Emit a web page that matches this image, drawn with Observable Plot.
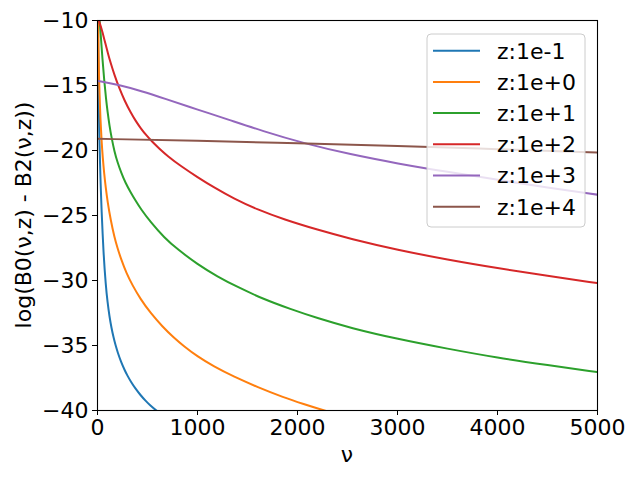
<!DOCTYPE html>
<html>
<head>
<meta charset="utf-8">
<script src="https://cdn.jsdelivr.net/npm/d3@7"></script>
<script src="https://cdn.jsdelivr.net/npm/@observablehq/plot@0.6"></script>
<style>
  html, body { margin: 0; padding: 0; background: white; }
  #chart { width: 640px; height: 480px; }
</style>
</head>
<body>
<div id="chart"></div>
<script>
// ---- data ----
const seriesNames = ["z:1e-1", "z:1e+0", "z:1e+1", "z:1e+2", "z:1e+3", "z:1e+4"];
const seriesColors = ["#1f77b4", "#ff7f0e", "#2ca02c", "#d62728", "#9467bd", "#8c564b"];

const nuZm1  = [2, 5, 10, 15, 20, 30, 40, 60, 83, 100, 120, 140, 160, 180, 203, 235, 270, 300, 337, 380, 430, 480, 530, 577, 700];
const valZm1 = [-8, -11, -14.5, -17.5, -19.5, -22.3, -24.5, -27.95, -30.4, -31.65, -32.8, -33.66, -34.37, -34.97, -35.56, -36.25, -36.87, -37.33, -37.83, -38.32, -38.82, -39.25, -39.63, -39.94, -40.64];

const nuZ0  = [3, 6, 10, 15, 20, 30, 40, 53, 67, 83, 100, 133, 170, 200, 233, 290, 350, 430, 530, 650, 763, 863, 1000, 1160, 1363, 1600, 1863, 2060, 2263, 2600];
const valZ0 = [-6.0, -9.6, -12.3, -14.25, -15.6, -17.7, -19.2, -20.6, -21.8, -22.9, -23.9, -25.4, -26.7, -27.5, -28.3, -29.45, -30.37, -31.43, -32.5, -33.55, -34.4, -35.05, -35.85, -36.6, -37.4, -38.2, -39.0, -39.5, -40, -40.7];

const nuZ1  = [15, 25, 33, 50, 67, 85, 100, 120, 140, 170, 200, 237, 280, 330, 380, 433, 530, 667, 800, 1000, 1200, 1400, 1650, 1930, 2200, 2530, 3000, 3500, 4000, 4500, 5000];
const valZ1 = [-9.5, -10.3, -11.2, -13.0, -14.6, -16.0, -17.0, -18.1, -19.0, -20.1, -20.9, -21.7, -22.5, -23.2, -23.85, -24.5, -25.5, -26.7, -27.6, -28.75, -29.7, -30.5, -31.4, -32.2, -32.9, -33.65, -34.5, -35.25, -35.95, -36.5, -37.05];

const nuZ2  = [0, 27, 50, 80, 105, 133, 170, 217, 270, 333, 380, 433, 490, 550, 617, 700, 833, 1000, 1167, 1363, 1600, 1863, 2200, 2530, 3000, 3500, 4000, 4500, 5000];
const valZ2 = [-9.7, -10.3, -10.9, -11.8, -12.55, -13.3, -14.2, -15.2, -16.15, -17.1, -17.7, -18.3, -18.85, -19.35, -19.85, -20.42, -21.2, -22.05, -22.85, -23.7, -24.55, -25.3, -26.1, -26.8, -27.65, -28.4, -29.05, -29.65, -30.2];

const nuZ3  = [0, 217, 450, 667, 1000, 1300, 1650, 2063, 2530, 3000, 3500, 4000, 4500, 5000];
const valZ3 = [-14.65, -14.95, -15.45, -16.0, -16.85, -17.6, -18.5, -19.45, -20.3, -21.0, -21.65, -22.25, -22.85, -23.4];

const nuZ4  = [0, 1000, 2000, 3000, 4000, 5000];
const valZ4 = [-19.1, -19.25, -19.45, -19.65, -19.9, -20.15];

const xTicks = [0, 1000, 2000, 3000, 4000, 5000];
const yTicks = [-40, -35, -30, -25, -20, -15, -10];

// ---- build table ----
const allNu = [nuZm1, nuZ0, nuZ1, nuZ2, nuZ3, nuZ4];
const allVal = [valZm1, valZ0, valZ1, valZ2, valZ3, valZ4];
const table = [];
seriesNames.forEach((s, i) => {
  allNu[i].forEach((nu, j) => table.push({series: s, nu, val: allVal[i][j]}));
});

const minusFmt = d3.format("d");

const chart = Plot.plot({
  width: 640,
  height: 480,
  marginLeft: 97,
  marginRight: 43,
  marginTop: 20,
  marginBottom: 70,
  style: {fontFamily: "DejaVu Sans", fontSize: "22px", background: "white", color: "black"},
  x: {domain: [0, 5000]},
  y: {domain: [-40, -10]},
  color: {domain: seriesNames, range: seriesColors},
  marks: [
    Plot.line(table, {x: "nu", y: "val", stroke: "series", z: "series", curve: "basis", strokeWidth: 2, clip: true}),
    Plot.frame({stroke: "black", strokeWidth: 1.1}),
    Plot.axisX({ticks: xTicks, tickSize: 5, tickPadding: 4, fontSize: 22, label: null, tickFormat: d => String(d)}),
    Plot.axisY({ticks: yTicks, tickSize: 5, tickPadding: 4, fontSize: 22, label: null, tickFormat: minusFmt})
  ]
});

document.getElementById("chart").appendChild(chart);

const svg = d3.select(chart);

// axis titles
svg.append("text")
  .attr("x", 347).attr("y", 462)
  .attr("text-anchor", "middle")
  .attr("font-family", "DejaVu Sans").attr("font-size", 22).attr("fill", "black")
  .text("ν");
svg.append("text")
  .attr("transform", "translate(31,215) rotate(-90)")
  .attr("text-anchor", "middle")
  .attr("font-family", "DejaVu Sans").attr("font-size", 22).attr("fill", "black")
  .text("log(B0(ν,z) - B2(ν,z))");

// legend
const lg = svg.append("g");
lg.append("rect")
  .attr("x", 427).attr("y", 34).attr("width", 158).attr("height", 193)
  .attr("rx", 4).attr("fill", "white").attr("fill-opacity", 0.8)
  .attr("stroke", "#cccccc").attr("stroke-width", 1);
seriesNames.forEach((s, i) => {
  const yy = 50.7 + i * 31.2;
  lg.append("line")
    .attr("x1", 433).attr("x2", 480).attr("y1", yy).attr("y2", yy)
    .attr("stroke", seriesColors[i]).attr("stroke-width", 2);
  lg.append("text")
    .attr("x", 497).attr("y", yy).attr("dy", "0.36em")
    .attr("text-anchor", "start")
    .attr("font-family", "DejaVu Sans").attr("font-size", 22).attr("fill", "black")
    .text(s);
});
</script>
</body>
</html>
